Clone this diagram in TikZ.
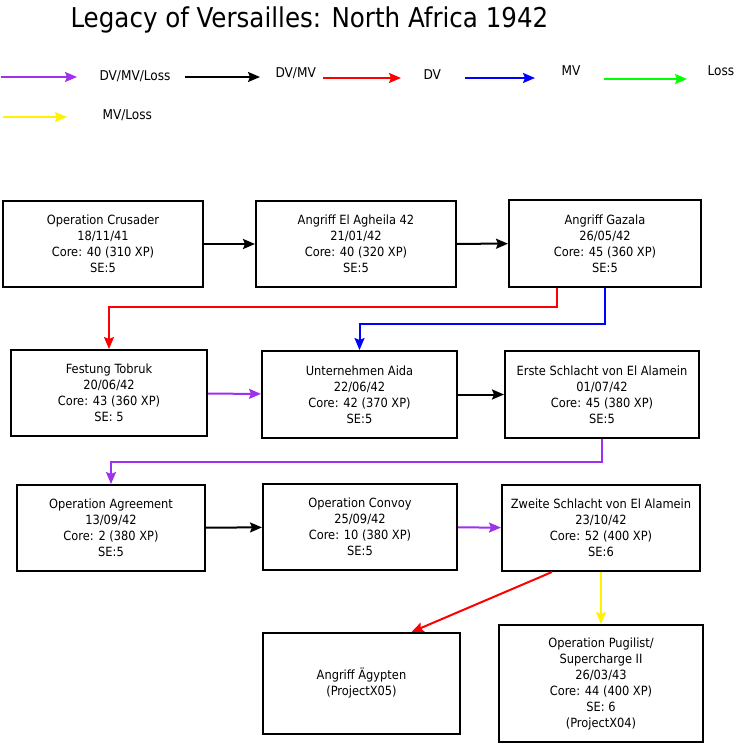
\documentclass[tikz,border=0pt]{standalone}
\usepackage{fontspec}
\setmainfont{DejaVu Sans Condensed}
\usepackage{tikz}
\usetikzlibrary{arrows.meta}
\definecolor{lilac}{HTML}{A030F0}

\begin{document}
\begin{tikzpicture}[x=1pt,y=-1pt,>={Stealth[length=12pt,width=10pt,inset=2pt]},
  every node/.style={font=\fontsize{12.7}{16}\selectfont},
  box/.style={draw,line width=2pt,align=center,inner sep=0pt,minimum height=86,minimum width=#1},
  box/.default=196,
  link/.style={->,line width=2pt,#1},link/.default=black,
  key/.style={anchor=base west,font=\fontsize{13.5}{15}\selectfont}]
\useasboundingbox (0,0) rectangle (734,743);
% title and legend
\node[anchor=base west,font=\fontsize{27.3}{30}\selectfont] (title) at (67,28) {Legacy of Versailles: North Africa 1942};
\coordinate (k1a) at (1,77);   \coordinate (k1b) at (77,77);
\coordinate (k2a) at (185,77); \coordinate (k2b) at (260,77);
\coordinate (k3a) at (323,78); \coordinate (k3b) at (401,78);
\coordinate (k4a) at (465,78); \coordinate (k4b) at (535,78);
\coordinate (k5a) at (604,79); \coordinate (k5b) at (687,79);
\coordinate (k6a) at (3,117);  \coordinate (k6b) at (67,117);
\draw[link=lilac] (k1a)--(k1b);
\draw[link] (k2a)--(k2b);
\draw[link=red] (k3a)--(k3b);
\draw[link=blue] (k4a)--(k4b);
\draw[link=green] (k5a)--(k5b);
\draw[link=yellow] (k6a)--(k6b);
\node[key] (t1) at (96,80.5) {DV/MV/Loss};
\node[key] (t2) at (272,77.5) {DV/MV};
\node[key] (t3) at (420,79.5) {DV};
\node[key] (t4) at (558,75.5) {MV};
\node[key] (t5) at (704,75.5) {Loss};
\node[key] (t6) at (99,119.5) {MV/Loss};
% missions
\node[box=200] (crus) at (103,244) {Operation Crusader\\18/11/41\\Core: 40 (310 XP)\\SE:5};
\node[box=200] (aghe) at (356,244) {Angriff El Agheila 42\\21/01/42\\Core: 40 (320 XP)\\SE:5};
\node[box=192,minimum height=87] (gaza) at (605,243.5) {Angriff Gazala\\26/05/42\\Core: 45 (360 XP)\\SE:5};
\node[box] (tobr) at (109,393) {Festung Tobruk\\20/06/42\\Core: 43 (360 XP)\\SE: 5};
\node[box=195,minimum height=87] (aida) at (359.5,394.5) {Unternehmen Aida\\22/06/42\\Core: 42 (370 XP)\\SE:5};
\node[box=194,minimum height=87] (erst) at (602,394.5) {Erste Schlacht von El Alamein\\01/07/42\\Core: 45 (380 XP)\\SE:5};
\node[box=188] (agre) at (111,528) {Operation Agreement\\13/09/42\\Core: 2 (380 XP)\\SE:5};
\node[box=194] (conv) at (360,527) {Operation Convoy\\25/09/42\\Core: 10 (380 XP)\\SE:5};
\node[box=198] (zwei) at (601,528) {Zweite Schlacht von El Alamein\\23/10/42\\Core: 52 (400 XP)\\SE:6};
\node[box=197,minimum height=101] (aegy) at (361.5,683.5) {Angriff Ägypten\\(ProjectX05)};
\node[box=204,minimum height=117] (pugi) at (601,683.5) {Operation Pugilist/\\Supercharge II\\26/03/43\\Core: 44 (400 XP)\\SE: 6\\(ProjectX04)};
% links
\draw[link] (crus)--(aghe);
\draw[link] (aghe)--(gaza);
\draw[link=red] ([xshift=-48]gaza.south)--++(0,19)-|(tobr.north);
\draw[link=blue] (gaza.south)--++(0,36)-|(aida.north);
\draw[link=lilac] (tobr)--(aida);
\draw[link] (aida)--(erst);
\draw[link=lilac] (erst.south)--++(0,23)-|(agre.north);
\draw[link] (agre)--(conv);
\draw[link=lilac] (conv)--(zwei);
\draw[link=red] ([xshift=-49]zwei.south)--([xshift=50]aegy.north);
\draw[link=yellow] (zwei.south)--(pugi.north);
\end{tikzpicture}
\end{document}
